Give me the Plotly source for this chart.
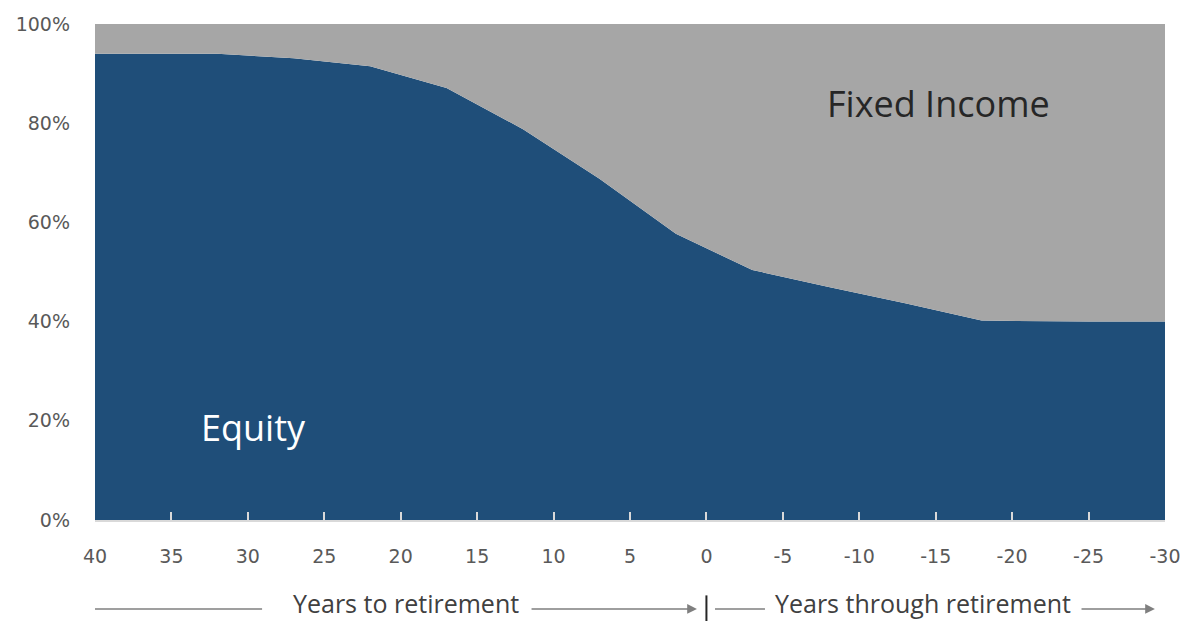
import plotly.graph_objects as go

years = [40, 37, 32, 27, 22, 17, 12, 7, 2, -3, -8, -13, -18, -25, -30]
equity = [94, 94, 94, 93.1, 91.5, 87.1, 78.8, 68.8, 57.7, 50.4, 47.0, 43.7, 40.2, 40, 40]
fixed_income = [100 - e for e in equity]
x_ticks = list(range(40, -31, -5))
y_ticks = [0, 20, 40, 60, 80, 100]

BLUE = "#1F4E79"
GRAY = "#A6A6A6"
TXT = "#595959"

fig = go.Figure()
fig.add_trace(go.Scatter(x=years, y=equity, stackgroup="a", mode="none",
                         fillcolor=BLUE, name="Equity", hoverinfo="skip"))
fig.add_trace(go.Scatter(x=years, y=fixed_income, stackgroup="a", mode="none",
                         fillcolor=GRAY, name="Fixed Income", hoverinfo="skip"))

fig.update_layout(
    width=1174, height=613,
    margin=dict(l=87, r=17, t=16, b=101),
    plot_bgcolor="white", paper_bgcolor="white",
    showlegend=False,
    font=dict(family="DejaVu Sans, sans-serif", color=TXT, size=19),
)
fig.update_xaxes(
    range=[40, -30], tickvals=x_ticks, ticktext=[str(v) for v in x_ticks],
    showgrid=False, zeroline=False, showline=True, linecolor="#D9D9D9", linewidth=1.5,
    ticks="inside", ticklen=8, tickcolor="#D9D9D9", tickwidth=1.5, automargin=False,
    ticklabelstandoff=18, tickfont=dict(family="DejaVu Sans, sans-serif", size=19, color=TXT),
)
fig.update_yaxes(
    range=[0, 100], tickvals=y_ticks, ticktext=[f"{v}%" for v in y_ticks],
    showgrid=False, zeroline=False, showline=False, ticks="", automargin=False,
    ticklabelstandoff=24, tickfont=dict(family="DejaVu Sans, sans-serif", size=19, color=TXT),
)

fig.add_annotation(x=-15.2, y=83.9, xref="x", yref="y", text="Fixed Income",
                   showarrow=False, font=dict(family="Open Sans, Noto Sans, sans-serif", size=36, color="#262626"))
fig.add_annotation(x=29.6, y=18.75, xref="x", yref="y", text="Equity",
                   showarrow=False, font=dict(family="Open Sans, Noto Sans, sans-serif", size=36, color="white"))

# bottom labels
lab_font = dict(family="Open Sans, Noto Sans, sans-serif", size=25, color="#404040")
ylab = -0.1794
ytxt = -0.1673
fig.add_shape(type="line", xref="x", yref="paper", x0=40, x1=29.07, y0=ylab, y1=ylab,
              line=dict(color="#7F7F7F", width=1.5))
fig.add_annotation(x=19.65, y=ytxt, xref="x", yref="paper", yanchor="middle",
                   text="Years to retirement", showarrow=False, font=lab_font)
fig.add_annotation(x=0.62, y=ylab, ax=11.54, ay=0, xref="x", yref="paper", axref="x", ayref="pixel",
                   text="", showarrow=True, arrowhead=2, arrowsize=1.3, arrowwidth=1.5, arrowcolor="#7F7F7F")
fig.add_shape(type="line", xref="x", yref="paper", x0=0, x1=0, y0=-0.152, y1=-0.22,
              line=dict(color="#262626", width=2))
fig.add_shape(type="line", xref="x", yref="paper", x0=-0.56, x1=-3.83, y0=ylab, y1=ylab,
              line=dict(color="#7F7F7F", width=1.5))
fig.add_annotation(x=-14.2, y=ytxt, xref="x", yref="paper", yanchor="middle",
                   text="Years through retirement", showarrow=False, font=lab_font)
fig.add_annotation(x=-29.34, y=ylab, ax=-24.44, ay=0, xref="x", yref="paper", axref="x", ayref="pixel",
                   text="", showarrow=True, arrowhead=2, arrowsize=1.3, arrowwidth=1.5, arrowcolor="#7F7F7F")

fig.write_html("out.html")
